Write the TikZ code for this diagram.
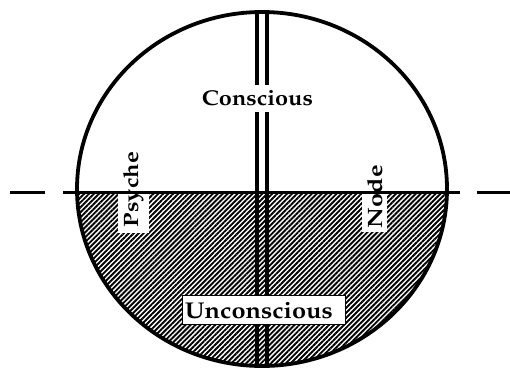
\documentclass[tikz,border=0pt]{standalone}
\usepackage[T1,TU]{fontenc}
\usepackage{graphicx}
\usepackage{pdfrender}
\usetikzlibrary{patterns.meta}
\newcommand{\pal}{\fontencoding{T1}\fontfamily{ppl}\fontseries{b}\selectfont}
\newcommand{\lblbox}[3]{\resizebox{#1pt}{#2pt}{\pal\textpdfrender{TextRenderingMode=FillStroke,LineWidth=0.9pt}{#3}}}
\tikzset{
  outline/.style={line width=3.8pt},
  thick line/.style={line width=3pt},
  dbl/.style={line width=3.6pt},
  hatch/.style={pattern={Lines[angle=45,distance=3.5pt,line width=1.9pt]}},
  label box/.style={fill=white,draw=none},
  txt/.style={inner sep=0pt,anchor=base}
}
\begin{document}
\begin{tikzpicture}[x=1pt,y=-1pt]
\useasboundingbox[fill=white] (0,0) rectangle (510,367);
% hatched lower half
\begin{scope}
  \clip (262,189) ellipse [x radius=185,y radius=177];
  \fill[hatch] (60,192) rectangle (470,380);
\end{scope}
% vertical double line
\draw[dbl] (257,13) -- (257,85);
\draw[dbl] (267,13) -- (267,85);
\draw[dbl] (257,112) -- (257,366);
\draw[dbl] (267,112) -- (267,366);
% horizontal boundary line
\coordinate (hl) at (77,192);
\coordinate (hr) at (447,192);
\draw[thick line] (hl) -- (hr);
% white label boxes
\fill[label box] (118,193.6) rectangle (149,233);
\fill[label box] (362,193.6) rectangle (387,232);
\filldraw[fill=white,draw=black,line width=1pt] (182,295) rectangle (345,324);
% outline
\draw[outline] (262,189) ellipse [x radius=185,y radius=177];
% dashes outside
\coordinate (d1a) at (10,192); \coordinate (d1b) at (45,192);
\coordinate (d2a) at (63,192); \coordinate (d2b) at (79,192);
\coordinate (d3a) at (445,192); \coordinate (d3b) at (460,192);
\coordinate (d4a) at (477,192); \coordinate (d4b) at (510,192);
\draw[thick line] (d1a) -- (d1b);
\draw[thick line] (d2a) -- (d2b);
\draw[thick line] (d3a) -- (d3b);
\draw[thick line] (d4a) -- (d4b);
% texts
\node[txt] (conscious) at (257.5,105) {\lblbox{111}{15}{Conscious}};
\node[txt] (unconscious) at (259,318) {\lblbox{148}{16}{Unconscious}};
\node[txt,rotate=90] (psyche) at (138,189.5) {\lblbox{75}{15}{Psyche}};
\node[txt,rotate=90] (node) at (382,196.5) {\lblbox{63}{15}{Node}};
\end{tikzpicture}
\end{document}
